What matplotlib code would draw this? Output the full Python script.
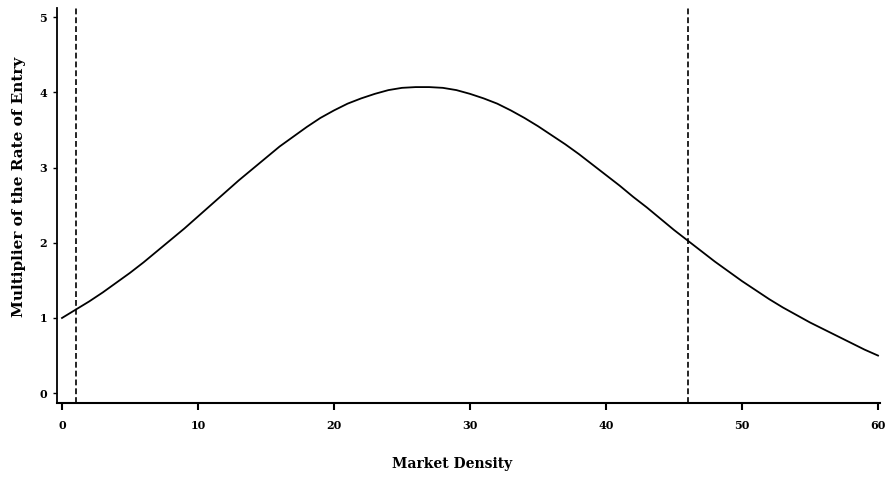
import matplotlib
matplotlib.use('Agg')
import matplotlib.pyplot as plt

# values (market density vs. multiplier)
density = list(range(0, 61))
multiplier = [1.00, 1.11, 1.22, 1.34, 1.47, 1.60, 1.74, 1.89, 2.04, 2.19,
              2.35, 2.51, 2.67, 2.83, 2.98, 3.13, 3.28, 3.41, 3.54, 3.66,
              3.76, 3.85, 3.92, 3.98, 4.03, 4.06, 4.07, 4.07, 4.06, 4.03,
              3.98, 3.92, 3.85, 3.76, 3.66, 3.55, 3.43, 3.31, 3.18, 3.04,
              2.90, 2.76, 2.61, 2.47, 2.32, 2.17, 2.03, 1.89, 1.75, 1.62,
              1.49, 1.37, 1.25, 1.14, 1.04, 0.94, 0.85, 0.76, 0.67, 0.58,
              0.50]
vlines = [1, 46]
xticks = [0, 10, 20, 30, 40, 50, 60]
yticks = [0, 1, 2, 3, 4, 5]

plt.rcParams['font.family'] = ['DejaVu Serif']
plt.rcParams['font.weight'] = 'bold'

fig = plt.figure(figsize=(8.86, 4.78), dpi=100)
ax = fig.add_axes([0.0643, 0.157, 0.929, 0.826])

ax.plot(density, multiplier, color='black', lw=1.3)
for v in vlines:
    ax.axvline(v, color='black', lw=1.2, ls=(0, (3.5, 1.8)))

ax.set_xlim(-0.37, 60.15)
ax.set_ylim(-0.13, 5.12)
ax.set_xticks(xticks)
ax.set_yticks(yticks)
ax.spines['top'].set_visible(False)
ax.spines['right'].set_visible(False)
ax.spines['left'].set_linewidth(1.3)
ax.spines['bottom'].set_linewidth(1.5)
ax.tick_params(axis='x', direction='out', length=5, width=1.5, labelsize=8, pad=7)
ax.tick_params(axis='y', direction='out', length=3, width=1, labelsize=8, pad=4)
for lab in ax.get_xticklabels() + ax.get_yticklabels():
    lab.set_fontweight('bold')

ax.set_xlabel('Market Density', fontsize=10, fontweight='bold')
ax.set_ylabel('Multiplier of the Rate of Entry', fontsize=11, fontweight='bold')
ax.xaxis.set_label_coords(0.48, -0.137)
ax.yaxis.set_label_coords(-0.038, 0.547)

fig.savefig('out.png', dpi=100)
